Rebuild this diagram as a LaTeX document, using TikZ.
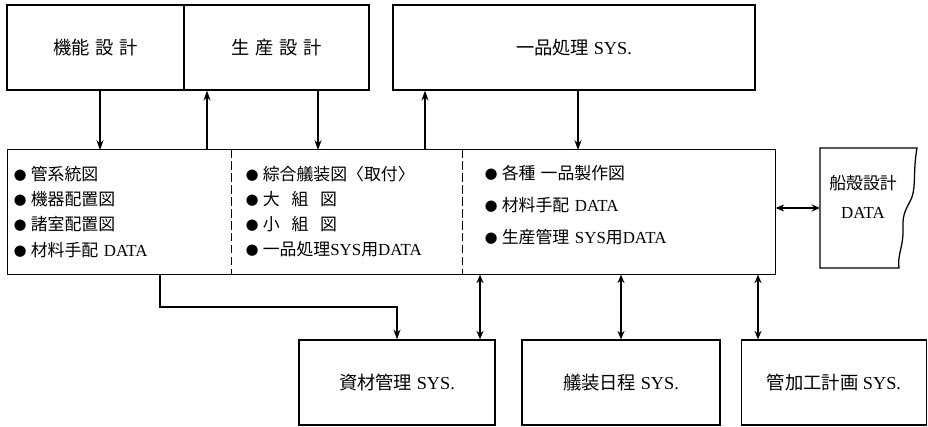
\documentclass[tikz,border=0pt]{standalone}
\usepackage{fontspec}
\setmainfont{Liberation Serif}
\newfontfamily\jp{Noto Sans CJK JP}
\usetikzlibrary{calc, arrows.meta}
\newcommand{\bul}{{\jp\fontsize{9}{9}\selectfont ●}\hspace{.25em}}

\begin{document}
\begin{tikzpicture}[x=0.025cm, y=-0.025cm, line width=0.9pt,
                box/.style={draw, minimum height=2.125cm, inner sep=0pt, font=\fontsize{13}{15}\selectfont},
                cell/.style={minimum height=3.1cm, align=left, inner ysep=0pt, font=\fontsize{12}{17.8}\selectfont},
                arr/.style={-{Stealth[length=7pt, width=5pt]}},
                dbl/.style={{Stealth[length=6pt, width=5pt]}-{Stealth[length=6pt, width=5pt]}}]
                \useasboundingbox (0,0) rectangle (928,427);
                % design boxes on top
                \node[box, minimum width=4.425cm] (kino) at (95.5,47.5) {\jp 機能\hspace{.3em}設\hspace{.3em}計};
                \node[box, minimum width=4.625cm] (seisan) at (276.5,47.5) {\jp 生\hspace{.3em}産\hspace{.3em}設\hspace{.3em}計};
                \node[box, minimum width=9.05cm] (ippin) at (574,47.5) {{\jp 一品処理}\ SYS.};
                % drawing lists
                \node[cell, minimum width=5.6cm, inner xsep=0.15cm, text width=5.3cm] (zu) at (120,212)
                    {\bul{\jp 管系統図}\\ \bul{\jp 機器配置図}\\ \bul{\jp 諸室配置図}\\ \bul{\jp 材料手配} DATA};
                \node[cell, minimum width=5.775cm, inner xsep=0.35cm, text width=5.075cm] (gisou) at (347.5,212)
                    {\bul{\jp 綜合艤装図〈取付〉}\\ \bul{\jp 大\hspace{.7em}組\hspace{.7em}図}\\ \bul{\jp 小\hspace{.7em}組\hspace{.7em}図}\\ \bul{\jp 一品処理}SYS{\jp 用}DATA};
                \node[cell, minimum width=7.8cm, inner xsep=0.55cm, text width=6.7cm,
                    font=\fontsize{12}{22.5}\selectfont] (seisaku) at (619,212)
                    {\bul{\jp 各種\hspace{.3em}一品製作図}\\ \bul{\jp 材料手配} DATA\\ \bul{\jp 生産管理} SYS{\jp 用}DATA\rule[-11pt]{0pt}{11pt}};
                \draw (zu.north west) rectangle (seisaku.south east);
                \draw[dash pattern=on 6pt off 2.5pt] (gisou.north west) -- (gisou.south west);
                \draw[dash pattern=on 6pt off 2.5pt] (seisaku.north west) -- (seisaku.south west);
                % hull data
                \draw (820,148) -- (917,148) .. controls (913,170) and (916,185) .. (912,197)
                    .. controls (908,207) and (902,212) .. (903,228) .. controls (904,245) and (897,255) .. (899,268)
                    -- (820,268) -- cycle;
                \node[align=center, font=\fontsize{12}{20.6}\selectfont] (sengai) at (863,197) {{\jp 船殻設計}\\ DATA};
                \coordinate (sg) at (820,208);
                % systems below
                \node[box, minimum width=4.9cm] (shizai) at (397,382.5) {{\jp 資材管理}\ SYS.};
                \node[box, minimum width=4.95cm] (nittei) at (621,382.5) {{\jp 艤装日程}\ SYS.};
                \node[box, minimum width=4.625cm] (kakou) at (834,382.5) {{\jp 管加工計画}\ SYS.};
                % connectors
                \coordinate (a0) at (100,150);
                \coordinate (a1) at (207,150);
                \coordinate (a2) at (318,150);
                \coordinate (a3) at (425,150);
                \coordinate (a4) at (578,150);
                \draw[arr] (a0 |- kino.south) -- (a0);
                \draw[arr] (a1) -- (a1 |- seisan.south);
                \draw[arr] (a2 |- seisan.south) -- (a2);
                \draw[arr] (a3) -- (a3 |- ippin.south);
                \draw[arr] (a4 |- ippin.south) -- (a4);
                \draw[dbl] (seisaku.east |- sg) -- (sg);
                \coordinate (b0) at (160,307);
                \coordinate (b1) at (480,340);
                \coordinate (b3) at (758,340);
                \draw[arr] (b0 |- zu.south) -- (b0) -| (shizai.north);
                \draw[dbl] (b1 |- seisaku.south) -- (b1 |- shizai.north);
                \draw[dbl] (seisaku.south -| nittei.north) -- (nittei.north);
                \draw[dbl] (b3 |- seisaku.south) -- (b3 |- kakou.north);
            \end{tikzpicture}
\end{document}
